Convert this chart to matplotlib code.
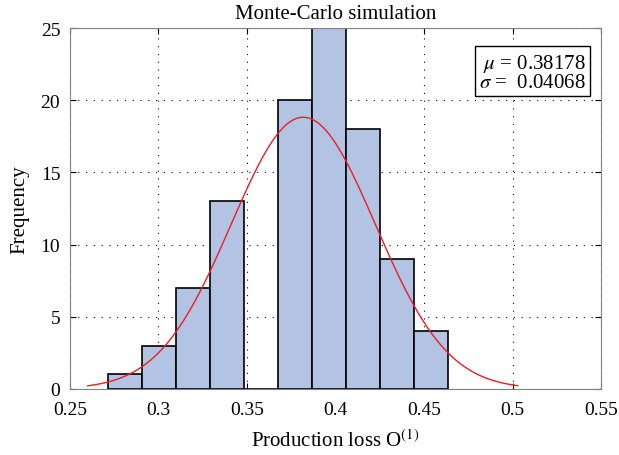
import numpy as np
import matplotlib.pyplot as plt

# histogram data
bin_edges = [0.2715, 0.2907, 0.3099, 0.3291, 0.3483, 0.3675, 0.3867,
             0.4059, 0.4251, 0.4443, 0.4635]
counts = [1, 3, 7, 13, 0, 20, 25, 18, 9, 4]
mu = 0.38178
sigma = 0.04068
xticks = [0.25, 0.3, 0.35, 0.4, 0.45, 0.5, 0.55]
yticks = [0, 5, 10, 15, 20, 25]

plt.rcParams['font.family'] = ['Liberation Serif', 'DejaVu Serif']
plt.rcParams['mathtext.fontset'] = 'stix'

fig = plt.figure(figsize=(6.19, 4.56), dpi=100)
ax = fig.add_axes([0.113, 0.145, 0.858, 0.791])

edges = np.array(bin_edges)
width = np.diff(edges)
ax.bar(edges[:-1], counts, width=width, align='edge', color='#b3c3e3',
       edgecolor='black', linewidth=1.2, zorder=2)

# fitted normal curve, scaled to counts
n = sum(counts)
bw = width.mean()
xc = np.linspace(0.26, 0.503, 300)
yc = n * bw / (sigma * np.sqrt(2 * np.pi)) * np.exp(-0.5 * ((xc - mu) / sigma) ** 2)
ax.plot(xc, yc, color='#ee1c25', linewidth=1.0, zorder=3)

ax.set_xlim(0.25, 0.55)
ax.set_ylim(0, 25)
ax.set_xticks(xticks)
ax.set_xticklabels(['0.25', '0.3', '0.35', '0.4', '0.45', '0.5', '0.55'])
ax.set_yticks(yticks)
ax.grid(True, linestyle=(0, (1, 6)), color='black', linewidth=0.8, zorder=0)
ax.set_axisbelow(True)
ax.tick_params(direction='in', top=True, right=True, labelsize=14, length=4)
ax.tick_params(axis='x', pad=9)
ax.tick_params(axis='y', pad=7)
for s in ax.spines.values():
    s.set_color('#808080')

ax.set_title('Monte-Carlo simulation', fontsize=15, pad=7)
ax.set_xlabel('Production loss O$^{(1)}$', fontsize=15, labelpad=8)
ax.set_ylabel('Frequency', fontsize=15, labelpad=8)

ax.text(0.972, 0.935, '$\\mu$ = 0.38178\n$\\sigma$ =  0.04068', transform=ax.transAxes,
        ha='right', va='top', fontsize=15, linespacing=0.95,
        bbox=dict(boxstyle='square,pad=0.2', facecolor='white', edgecolor='black', linewidth=1.0))

fig.savefig('out.png', dpi=100)
